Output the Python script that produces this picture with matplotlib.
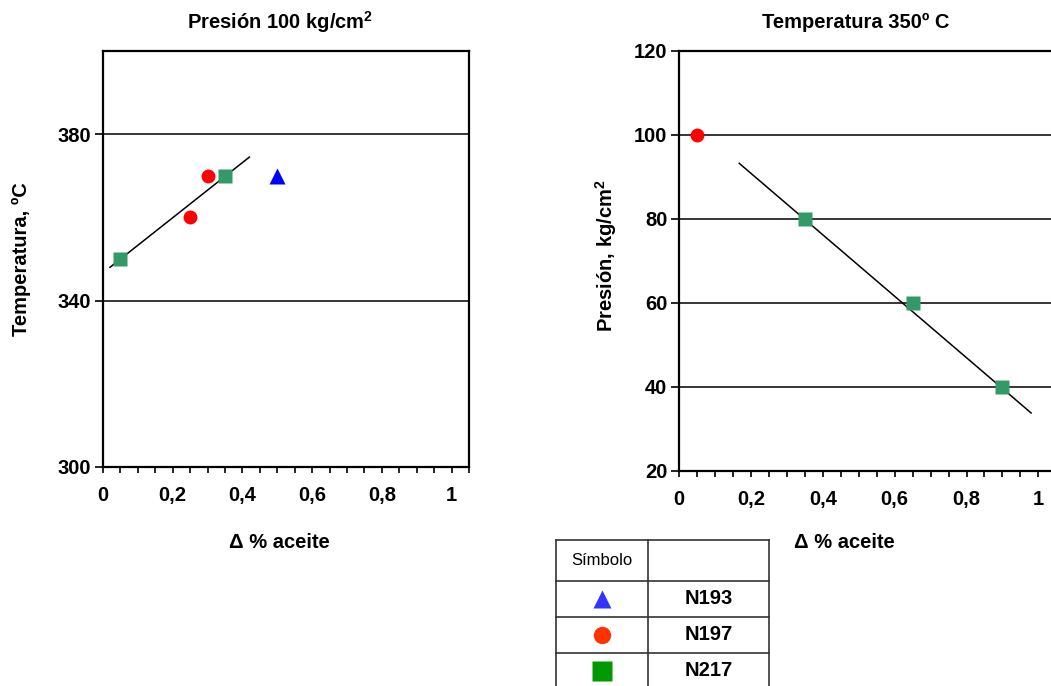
import matplotlib
matplotlib.use("Agg")
import matplotlib.pyplot as plt
from matplotlib.ticker import MultipleLocator, FixedLocator, FuncFormatter
from matplotlib.lines import Line2D

plt.rcParams['font.family'] = ['Liberation Sans', 'DejaVu Sans']
plt.rcParams['mathtext.fontset'] = 'custom'
plt.rcParams['mathtext.rm'] = 'Liberation Sans'
plt.rcParams['mathtext.bf'] = 'Liberation Sans:bold'
plt.rcParams['mathtext.default'] = 'bf'

# ---- Data: Presión 100 kg/cm² (temperature vs. oil change) ----
p100_n193_x = [0.50]
p100_n193_y = [370]
p100_n197_x = [0.30, 0.25]
p100_n197_y = [370, 360]
p100_n217_x = [0.05, 0.35]
p100_n217_y = [350, 370]
p100_trend_x = [0.02, 0.42]
p100_trend_y = [348.0, 374.5]

# ---- Data: Temperatura 350º C (pressure vs. oil change) ----
t350_n197_x = [0.05]
t350_n197_y = [100]
t350_n217_x = [0.35, 0.65, 0.90]
t350_n217_y = [80, 60, 40]
t350_trend_x = [0.167, 0.98]
t350_trend_y = [93.2, 33.8]

series_names = ["N193", "N197", "N217"]
x_tick_values = [0, 0.2, 0.4, 0.6, 0.8, 1.0]

W, H = 1051, 686
FS = 14.5
fig = plt.figure(figsize=(W / 100, H / 100), dpi=100)


def px_axes(x0, y_top, x1, y_bot):
    return fig.add_axes([x0 / W, 1 - y_bot / H, (x1 - x0) / W, (y_bot - y_top) / H])


def comma_fmt(v, pos):
    if abs(v - round(v)) < 1e-9:
        return f"{int(round(v))}"
    return f"{v:.1f}".replace(".", ",")


def style_axes(ax, yticks, grid_vals):
    ax.set_xlim(0, 1.05)
    ax.xaxis.set_major_locator(FixedLocator(x_tick_values))
    ax.xaxis.set_minor_locator(MultipleLocator(0.05))
    ax.xaxis.set_major_formatter(FuncFormatter(comma_fmt))
    ax.yaxis.set_major_locator(FixedLocator(yticks))
    for g in grid_vals:
        ax.axhline(g, color='black', lw=1.1, zorder=1)
    for s in ax.spines.values():
        s.set_linewidth(1.6)
    ax.tick_params(axis='x', which='both', direction='out', length=4.5, width=1.2,
                   labelsize=FS, pad=9)
    ax.tick_params(axis='y', which='major', direction='out', length=5.5, width=1.2,
                   labelsize=FS, pad=3)
    ax.tick_params(axis='y', which='minor', left=False)
    for lab in ax.get_xticklabels() + ax.get_yticklabels():
        lab.set_fontweight('bold')


# ---- Left panel ----
ax1 = px_axes(103, 51, 469, 467)
ax1.set_ylim(300, 400)
style_axes(ax1, [300, 340, 380], [340, 380])
ax1.plot(p100_trend_x, p100_trend_y, color='black', lw=1.1, zorder=2)
ax1.plot(p100_n193_x, p100_n193_y, '^', color='#0000ff', ms=11, mec='none', zorder=3)
ax1.plot(p100_n197_x, p100_n197_y, 'o', color='#ff0000', ms=10, mec='none', zorder=3)
ax1.plot(p100_n217_x, p100_n217_y, 's', color='#339966', ms=10, mec='none', zorder=3)

# ---- Right panel ----
ax2 = px_axes(679.3, 50.7, 679.3 + 1.05 * 359, 471)
ax2.set_ylim(20, 120)
style_axes(ax2, [20, 40, 60, 80, 100, 120], [40, 60, 80, 100])
ax2.spines['right'].set_visible(False)
ax2.plot(t350_trend_x, t350_trend_y, color='black', lw=1.1, zorder=2)
ax2.plot(t350_n197_x, t350_n197_y, 'o', color='#ff0000', ms=10, mec='none', zorder=3,
         clip_on=False)
ax2.plot(t350_n217_x, t350_n217_y, 's', color='#339966', ms=10, mec='none', zorder=3)

# ---- Titles and axis labels ----
def ftext(x, y, s, **kw):
    fig.text(x / W, 1 - y / H, s, ha='center', va='center', **kw)

ftext(280, 22, r"Presión 100 kg/cm$^{\mathbf{2}}$", fontsize=FS, fontweight='bold')
ftext(856, 22, "Temperatura 350º C", fontsize=FS, fontweight='bold')
ftext(279, 542, "Δ % aceite", fontsize=FS, fontweight='bold')
ftext(844, 542, "Δ % aceite", fontsize=FS, fontweight='bold')
ftext(21, 259, "Temperatura, ºC", fontsize=FS, fontweight='bold', rotation=90)
ftext(606, 256, r"Presión, kg/cm$^{\mathbf{2}}$", fontsize=FS, fontweight='bold',
      rotation=90)

# ---- Symbol table ----
tx0, tx1, txm = 556, 769, 648
row_y = [540, 581, 617, 653, 689]
lc = '#333333'
for y in row_y:
    fig.add_artist(Line2D([tx0 / W, tx1 / W], [1 - y / H, 1 - y / H], color=lc, lw=1.2))
for x in (tx0, txm, tx1):
    fig.add_artist(Line2D([x / W, x / W], [1 - row_y[0] / H, 1 - row_y[-1] / H],
                          color=lc, lw=1.2))
ftext((tx0 + txm) / 2, (row_y[0] + row_y[1]) / 2, "Símbolo", fontsize=12)

legend_markers = [('^', '#3333ff', 13), ('o', '#ff3300', 12.5), ('s', '#009900', 14)]
for i, (name, (mk, col, ms)) in enumerate(zip(series_names, legend_markers)):
    yc = (row_y[i + 1] + row_y[i + 2]) / 2
    fig.add_artist(Line2D([(tx0 + txm) / 2 / W], [1 - yc / H], marker=mk, color=col,
                          ms=ms, mec='none', linestyle='none'))
    ftext((txm + tx1) / 2, yc, name, fontsize=FS, fontweight='bold')

fig.savefig("out.png", dpi=100)
